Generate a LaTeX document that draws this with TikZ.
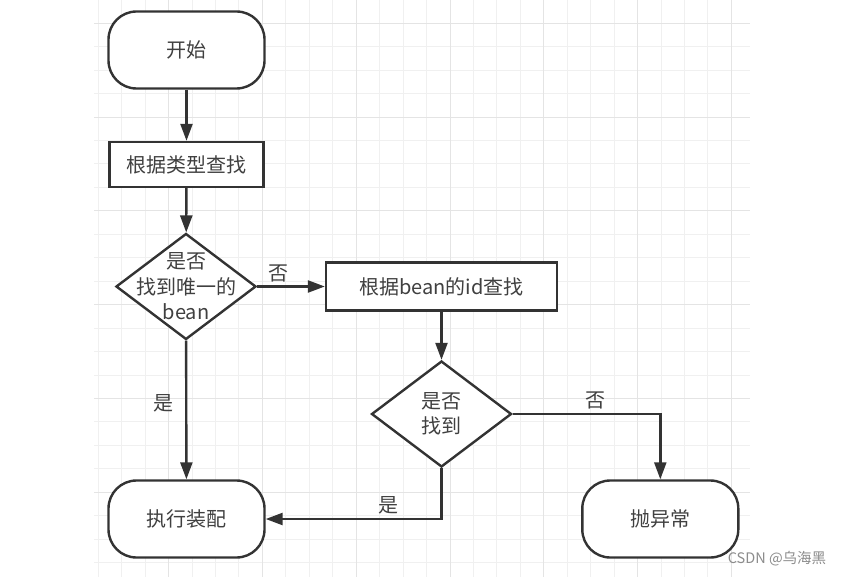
\documentclass[tikz,border=0pt]{standalone}
\usepackage{fontspec}
\newfontfamily\cjk{Noto Sans CJK SC}
\usetikzlibrary{arrows.meta,shapes.geometric}
\definecolor{ink}{HTML}{333333}
\definecolor{textgray}{HTML}{404040}
\definecolor{gridminor}{HTML}{F0F0F0}
\definecolor{gridmajor}{HTML}{E4E4E4}

\begin{document}
\begin{tikzpicture}[x=1pt,y=-1pt,>={Triangle[length=17pt,width=12pt]},
	every node/.style={font=\cjk\fontsize{20}{25.5}\selectfont,text=textgray},
	terminal/.style={rectangle,rounded corners=28pt,draw=ink,line width=2.4pt,fill=white,minimum width=156pt,minimum height=77pt},
	process/.style={rectangle,draw=ink,line width=2.4pt,fill=white,minimum width=154pt,minimum height=45pt},
	decision/.style={diamond,draw=ink,line width=2.4pt,fill=white,inner sep=0pt,minimum width=140pt,minimum height=106pt},
	flow/.style={->,draw=ink,line width=2.4pt}]
	\useasboundingbox (0,0) rectangle (842,577);
	\fill[white] (0,0) rectangle (842,577);
	% background grid
	\foreach \i in {0,...,27}
		\draw[gridminor,line width=1pt] ({98.25+23.45*\i},0) -- ({98.25+23.45*\i},577);
	\foreach \j in {1,...,24}
		\draw[gridminor,line width=1pt] (94,{-0.15+23.45*\j}) -- (750,{-0.15+23.45*\j});
	\foreach \i in {0,...,6}
		\draw[gridmajor,line width=1pt] ({168.6+93.8*\i},0) -- ({168.6+93.8*\i},577);
	\foreach \j in {0,...,5}
		\draw[gridmajor,line width=1pt] (94,{23.3+93.8*\j}) -- (750,{23.3+93.8*\j});
	\path
	(186.5,50)		node[terminal]	(start)		{开始}
	(186.5,164.5)	node[process]	(bytype)	{根据类型查找}
	(186,286.5)		node[decision]	(unique)	{}
					node[align=center] (uniquetxt) {是否\\找到唯一的\\bean}
	(441.5,286.5)	node[process,minimum width=231pt,minimum height=48pt] (byid) {根据bean的id查找}
	(441.5,414)		node[decision]	(found)		{}
					node[align=center] (foundtxt) {是否\\找到}
	(186.5,519)		node[terminal]	(wire)		{执行装配}
	(660.3,519)		node[terminal]	(throw)		{抛异常}
	(777,559)		node[font=\cjk\fontsize{14.5}{17}\selectfont,text=black!45] (watermark) {CSDN @乌海黑};
	\draw[flow] (start)--(bytype);
	\draw[flow] (bytype)--(unique);
	\draw[flow] (unique)--(byid) node[pos=.32,above]{否};
	\draw[flow] (byid)--(found);
	\draw[flow] (unique)--(wire) node[pos=.45,left=8pt]{是};
	\draw[flow] (found.east) -| (throw) node[pos=.28,above]{否};
	\draw[flow] (found.south) |- (wire) node[pos=.65,above]{是};
\end{tikzpicture}
\end{document}
